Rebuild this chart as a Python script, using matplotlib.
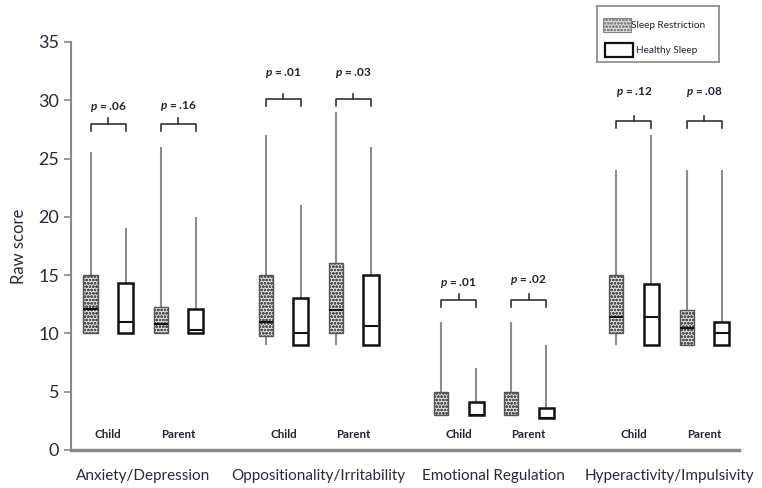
import numpy as np
import matplotlib.pyplot as plt
from matplotlib.patches import Rectangle

plt.rcParams['font.family'] = ['Lato', 'DejaVu Sans']
plt.rcParams['mathtext.fontset'] = 'custom'
plt.rcParams['mathtext.it'] = 'Lato:italic:bold'
plt.rcParams['hatch.color'] = '#7a7a7a'
plt.rcParams['hatch.linewidth'] = 0.8

# domains and raters
domains = ['Anxiety/Depression', 'Oppositionality/Irritability',
           'Emotional Regulation', 'Hyperactivity/Impulsivity']
raters = ['Child', 'Parent']

# box stats per box, order: domain -> rater -> (Sleep Restriction, Healthy Sleep)
sr_min = [10, 10, 9, 9, 3, 3, 9, 9]
sr_q1 = [10, 10, 9.8, 10, 3, 3, 10, 9]
sr_med = [12.1, 10.8, 11, 12, 3, 3, 11.4, 10.5]
sr_q3 = [15, 12.3, 15, 16, 5, 5, 15, 12]
sr_max = [25.6, 26, 27, 29, 11, 11, 24, 24]

hs_min = [10, 10, 9, 9, 3, 2.7, 9, 9]
hs_q1 = [10, 10, 9, 9, 3, 2.7, 9, 9]
hs_med = [11, 10.3, 10, 10.6, 3, 2.7, 11.4, 10]
hs_q3 = [14.3, 12.1, 13, 15, 4.1, 3.6, 14.2, 11]
hs_max = [19, 20, 21, 26, 7, 9, 27, 24]

p_labels = ['.06', '.16', '.01', '.03', '.01', '.02', '.12', '.08']
bracket_y = [28, 28, 30.1, 30.1, 12.9, 12.9, 28.2, 28.2]
p_text_y = [29.4, 29.5, 32.3, 32.3, 14.3, 14.6, 30.7, 30.7]

pair_pos = np.array([g * 5 + r * 2 for g in range(len(domains)) for r in range(len(raters))])
sr_pos = pair_pos
hs_pos = pair_pos + 1
w = 0.4

fig = plt.figure(figsize=(7.62, 4.88), dpi=100)
ax = fig.add_axes([0.093, 0.078, 0.877, 0.836])

# whiskers
wcol = '#8c8c8c'
ax.vlines(sr_pos, sr_q3, sr_max, color=wcol, lw=1.5, zorder=1)
ax.vlines(sr_pos, sr_min, sr_q1, color=wcol, lw=1.5, zorder=1)
ax.vlines(hs_pos, hs_q3, hs_max, color=wcol, lw=1.5, zorder=1)
ax.vlines(hs_pos, hs_min, hs_q1, color=wcol, lw=1.5, zorder=1)

# boxes
sr_h = np.array(sr_q3) - np.array(sr_q1)
hs_h = np.array(hs_q3) - np.array(hs_q1)
ax.bar(sr_pos, sr_h, bottom=sr_q1, width=w, facecolor='#e4e4e4', edgecolor='#555555',
       hatch='ooooo', lw=1.0, zorder=2)
ax.bar(hs_pos, hs_h, bottom=hs_q1, width=w + 0.03, facecolor='white', edgecolor='#111111',
       lw=1.8, zorder=2)

# medians (skip the ones sitting on the box bottom for the hatched boxes)
sr_show = np.array(sr_med) > np.array(sr_q1)
ax.hlines(np.array(sr_med)[sr_show], (sr_pos - w / 2)[sr_show], (sr_pos + w / 2)[sr_show],
          color='#111111', lw=1.5, zorder=3)
ax.hlines(hs_med, hs_pos - w / 2, hs_pos + w / 2, color='#111111', lw=1.5, zorder=3)

# brackets with p values
for i in range(len(pair_pos)):
    x0, x1 = sr_pos[i], hs_pos[i]
    y = bracket_y[i]
    xm = (x0 + x1) / 2
    ax.plot([x0, x0, x1, x1], [y - 0.6, y, y, y - 0.6], color='#333333', lw=1.2)
    ax.plot([xm, xm], [y, y + 0.45], color='#333333', lw=1.2)
    ax.text(xm, p_text_y[i], r'$\mathit{p}$ = ' + p_labels[i], ha='center', va='center',
            fontsize=8.5, fontweight='bold', color='#222233')

# rater labels
for i in range(len(pair_pos)):
    ax.text(pair_pos[i] + 0.5, 1.3, raters[i % 2], ha='center', va='center',
            fontsize=8.3, fontweight='bold', color='#222233')

ax.set_xlim(-0.56, 18.5)
ax.set_ylim(0, 35)
ax.set_yticks(range(0, 36, 5))
ax.tick_params(axis='y', labelsize=13, colors='#888888', labelcolor='#2a2a3a', length=5, width=1.2)
ax.set_xticks(np.arange(len(domains)) * 5 + 1.5)
ax.set_xticklabels(domains, fontsize=11, color='#2a2a3a')
ax.tick_params(axis='x', length=0, pad=14)
ax.set_ylabel('Raw score', fontsize=12, color='#2a2a3a', labelpad=8)
for s in ['top', 'right']:
    ax.spines[s].set_visible(False)
ax.spines['left'].set_color('#888888')
ax.spines['bottom'].set_color('#888888')
ax.spines['left'].set_linewidth(1.5)
ax.spines['bottom'].set_linewidth(2.5)

# legend box
lax = fig.add_axes([0.783, 0.873, 0.16, 0.115])
lax.set_xlim(0, 1)
lax.set_ylim(0, 1)
lax.set_xticks([])
lax.set_yticks([])
for s in lax.spines.values():
    s.set_color('#888888')
    s.set_linewidth(1.2)
lax.add_patch(Rectangle((0.05, 0.53), 0.23, 0.25, facecolor='#e4e4e4', edgecolor='#888888',
                        hatch='ooooo', lw=0.8))
lax.add_patch(Rectangle((0.07, 0.08), 0.23, 0.26, facecolor='white', edgecolor='#111111', lw=1.6))
lax.text(0.285, 0.65, 'Sleep Restriction', fontsize=7.2, va='center', color='#222233')
lax.text(0.32, 0.2, 'Healthy Sleep', fontsize=7.2, va='center', color='#222233')

fig.savefig('out.png', dpi=100)
